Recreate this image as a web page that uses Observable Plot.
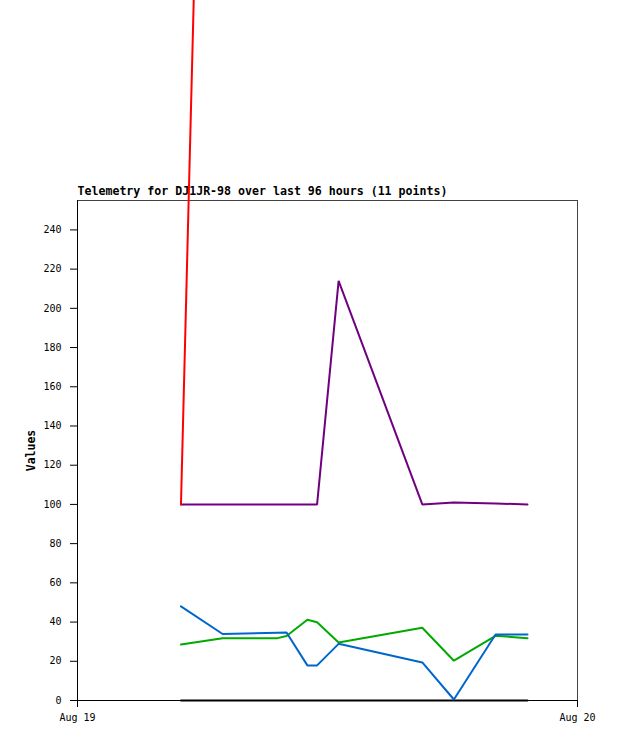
<!DOCTYPE html>
<html>
<head>
<meta charset="utf-8">
<script src="https://cdn.jsdelivr.net/npm/d3@7"></script>
<script src="https://cdn.jsdelivr.net/npm/@observablehq/plot@0.6"></script>
<style>
  html, body { margin: 0; padding: 0; background: #fff; }
  #chart svg { display: block; overflow: hidden; }
</style>
</head>
<body>
<div id="chart"></div>
<script>
const title = "Telemetry for DJ1JR-98 over last 96 hours (11 points)";
const yLabel = "Values";
const times = [
  "2023-08-19T04:58Z", "2023-08-19T06:58Z", "2023-08-19T09:36Z", "2023-08-19T10:02Z",
  "2023-08-19T11:02Z", "2023-08-19T11:30Z", "2023-08-19T12:32Z", "2023-08-19T16:33Z",
  "2023-08-19T18:04Z", "2023-08-19T20:04Z", "2023-08-19T21:36Z"
];
const seriesNames = ["S1", "S2", "S3", "S4", "S5"];
const seriesColors = ["#000000", "#00aa00", "#0066cc", "#700080", "#ff0000"];
const s1Values = [0, 0, 0, 0, 0, 0, 0, 0, 0, 0, 0];
const s2Values = [28.6, 31.8, 31.8, 32.9, 41.2, 39.9, 29.6, 37.1, 20.3, 33.0, 31.8];
const s3Values = [48.0, 33.9, 34.6, 34.7, 17.9, 17.9, 28.9, 19.4, 0.5, 33.7, 33.7];
const s4Values = [100, 100, 100, 100, 100, 100, 214, 100, 101, 100.5, 100];
const s5Values = [100, 940, 945, 950, 950, 948, 950, 955, 950, 948, 950];
const yTicks = [0, 20, 40, 60, 80, 100, 120, 140, 160, 180, 200, 220, 240];
const xDomain = ["2023-08-19T00:00Z", "2023-08-20T00:00Z"];
const yDomain = [0, 255];

const valuesBySeries = [s1Values, s2Values, s3Values, s4Values, s5Values];
const rows = [];
seriesNames.forEach((s, i) => {
  times.forEach((t, j) => rows.push({series: s, time: new Date(t), value: valuesBySeries[i][j]}));
});
const xd = xDomain.map(d => new Date(d));

const plot = Plot.plot({
  width: 618,
  height: 741,
  marginTop: 200,
  marginBottom: 41,
  marginLeft: 77,
  marginRight: 41,
  style: {fontFamily: "DejaVu Sans Mono", fontSize: "10px", background: "#fff", color: "#000"},
  x: {type: "utc", domain: xd},
  y: {domain: yDomain},
  color: {type: "ordinal", domain: seriesNames, range: seriesColors},
  marks: [
    Plot.frame({stroke: "#444", strokeWidth: 1}),
    Plot.axisY({ticks: yTicks, tickSize: 7, tickPadding: 9, label: null, fontSize: 10}),
    Plot.axisX({ticks: xd, tickSize: 7, tickPadding: 6, tickFormat: d3.utcFormat("%b %d"), label: null, fontSize: 10}),
    Plot.ruleX([xd[0]], {y1: 0, y2: yDomain[1], stroke: "#000"}),
    Plot.ruleY([0], {stroke: "#000"}),
    Plot.text([title], {frameAnchor: "top-left", dy: -14, textAnchor: "start", lineAnchor: "top", fontWeight: "bold", fontSize: 11.6}),
    Plot.text([yLabel], {frameAnchor: "left", dx: -46, rotate: -90, textAnchor: "middle", lineAnchor: "middle", fontWeight: "bold", fontSize: 11.5}),
    Plot.line(rows, {x: "time", y: "value", z: "series", stroke: "series", strokeWidth: 2, strokeLinejoin: "miter"})
  ]
});
document.getElementById("chart").appendChild(plot);
</script>
</body>
</html>
